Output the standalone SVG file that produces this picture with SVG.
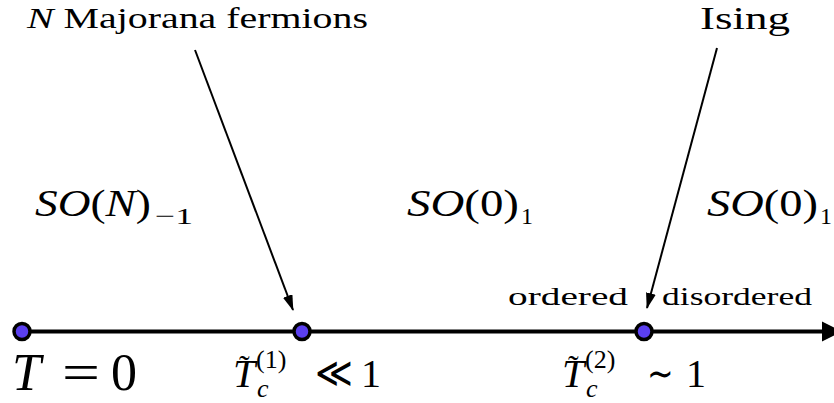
<svg xmlns="http://www.w3.org/2000/svg" width="834" height="403" viewBox="0 0 834 403">
<defs>
<marker id="ah" viewBox="0 0 16 10" refX="15" refY="5" markerWidth="16" markerHeight="10" orient="auto" markerUnits="userSpaceOnUse">
<path d="M0,0 L16,5 L0,10 z" fill="#000"/>
</marker>
</defs>
<rect width="834" height="403" fill="#fff"/>
<g id="connectors">
<line stroke="#000" stroke-width="4" x1="22" y1="331.5" x2="826" y2="331.5"/>
<path d="M822,321.5 L842,331.5 L822,341.5 z" fill="#000"/>
<line stroke="#000" stroke-width="2" x1="195" y1="50" x2="293" y2="310" marker-end="url(#ah)"/>
<line stroke="#000" stroke-width="2" x1="717" y1="48" x2="647" y2="308" marker-end="url(#ah)"/>
</g>
<g id="label-majorana"><text font-family="Liberation Serif" x="27" y="28" font-size="30" textLength="341" lengthAdjust="spacingAndGlyphs"><tspan font-style="italic">N</tspan> Majorana fermions</text></g>
<g id="label-ising"><text font-family="Liberation Serif" x="700" y="29" font-size="31" textLength="90" lengthAdjust="spacingAndGlyphs">Ising</text></g>
<g id="phase-son"><text font-family="Liberation Serif" x="35" y="216" font-size="37" textLength="116" lengthAdjust="spacingAndGlyphs"><tspan font-style="italic">SO</tspan>(<tspan font-style="italic">N</tspan>)</text><text font-family="Liberation Serif" x="155" y="224" font-size="24" textLength="38" lengthAdjust="spacingAndGlyphs">&#x2212;1</text></g>
<g id="phase-so0a"><text font-family="Liberation Serif" x="407" y="216" font-size="37" textLength="112" lengthAdjust="spacingAndGlyphs"><tspan font-style="italic">SO</tspan>(0)</text><text font-family="Liberation Serif" x="521" y="224" font-size="24">1</text></g>
<g id="phase-so0b"><text font-family="Liberation Serif" x="707" y="216" font-size="37" textLength="111" lengthAdjust="spacingAndGlyphs"><tspan font-style="italic">SO</tspan>(0)</text><text font-family="Liberation Serif" x="820" y="224" font-size="24">1</text></g>
<g id="label-ordered"><text font-family="Liberation Serif" x="508" y="305" font-size="26" textLength="120" lengthAdjust="spacingAndGlyphs">ordered</text></g>
<g id="label-disordered"><text font-family="Liberation Serif" x="662" y="305" font-size="26" textLength="150" lengthAdjust="spacingAndGlyphs">disordered</text></g>
<g id="node-t0">
<circle fill="#5b3ff0" stroke="#000" stroke-width="3.5" cx="22" cy="331.5" r="8"/>
<text font-family="Liberation Serif" x="12" y="390" font-size="52" font-style="italic">T</text>
<text font-family="Liberation Serif" x="62" y="390" font-size="52" textLength="38" lengthAdjust="spacingAndGlyphs">=</text>
<text font-family="Liberation Serif" x="111" y="390" font-size="52">0</text>
</g>
<g id="node-tc1">
<circle fill="#5b3ff0" stroke="#000" stroke-width="3.5" cx="302" cy="331.5" r="8"/>
<text font-family="Liberation Serif" x="233" y="387" font-size="40" font-style="italic">T</text>
<text font-family="Liberation Serif" x="239" y="377" font-size="32">&#x02DC;</text>
<text font-family="Liberation Serif" x="256" y="368" font-size="26">(1)</text>
<text font-family="Liberation Serif" x="257" y="397" font-size="26" font-style="italic">c</text>
<text font-family="Liberation Serif" x="315" y="387" font-size="42" textLength="38" lengthAdjust="spacingAndGlyphs">&#x226A;</text>
<text font-family="Liberation Serif" x="361" y="387" font-size="40">1</text>
</g>
<g id="node-tc2">
<circle fill="#5b3ff0" stroke="#000" stroke-width="3.5" cx="644" cy="331.5" r="8"/>
<text font-family="Liberation Serif" x="562" y="387" font-size="40" font-style="italic">T</text>
<text font-family="Liberation Serif" x="568" y="377" font-size="32">&#x02DC;</text>
<text font-family="Liberation Serif" x="585" y="368" font-size="26">(2)</text>
<text font-family="Liberation Serif" x="586" y="397" font-size="26" font-style="italic">c</text>
<text font-family="Liberation Serif" x="647" y="387" font-size="40" textLength="27" lengthAdjust="spacingAndGlyphs">&#x223C;</text>
<text font-family="Liberation Serif" x="686" y="387" font-size="40">1</text>
</g>
</svg>
